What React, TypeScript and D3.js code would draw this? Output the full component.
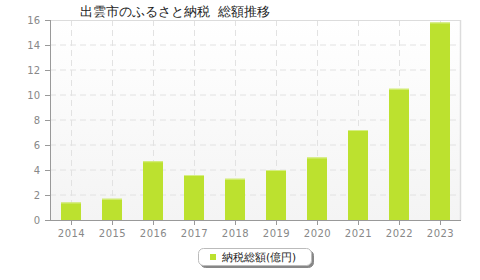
import * as d3 from "d3";

const years = ["2014", "2015", "2016", "2017", "2018", "2019", "2020", "2021", "2022", "2023"];
const amounts = [1.4, 1.7, 4.7, 3.6, 3.3, 4.0, 5.0, 7.2, 10.5, 15.8];
const yTicks = [0, 2, 4, 6, 8, 10, 12, 14, 16];
const title = "出雲市のふるさと納税  総額推移";
const seriesName = "納税総額(億円)";

const W = 480, H = 280;
const L = 50, R = 461, T = 20, B = 220;
const BAR = "#bce12f";
const FONT = "'DejaVu Sans', Verdana, sans-serif";

export default function App() {
  const x = d3.scaleBand<string>().domain(years).range([L, R]);
  const y = d3.scaleLinear().domain([0, 16]).range([B, T]);
  const bw = 20;

  return (
    <svg width={W} height={H} style={{ position: "absolute", left: 0, top: 0, background: "#fff" }}>
      <defs>
        <linearGradient id="bg" x1="0" y1="0" x2="0" y2="1">
          <stop offset="0" stopColor="#ffffff" />
          <stop offset="1" stopColor="#f4f4f4" />
        </linearGradient>
        <filter id="sh" x="-10%" y="-20%" width="130%" height="160%">
          <feDropShadow dx="2" dy="2" stdDeviation="0.6" floodColor="#555" floodOpacity="0.7" />
        </filter>
      </defs>

      <text x={80} y={16} fontFamily={FONT} fontSize={13} fill="#222" style={{ whiteSpace: "pre" }}>{title}</text>

      {/* plot background */}
      <rect x={L} y={T} width={R - L} height={B - T} fill="url(#bg)" />

      {/* grid */}
      {yTicks.slice(1, -1).map((t) => (
        <line key={t} x1={L} x2={R} y1={y(t)} y2={y(t)} stroke="#e2e2e2" strokeWidth={1} strokeDasharray="6,4" />
      ))}
      {years.map((yr) => {
        const cx = Math.round(x(yr)! + x.bandwidth() / 2) + 0.5;
        return <line key={yr} x1={cx} x2={cx} y1={T} y2={B} stroke="#e2e2e2" strokeWidth={1} strokeDasharray="6,4" />;
      })}

      {/* frame top/right */}
      <line x1={L} x2={R} y1={T + 0.5} y2={T + 0.5} stroke="#dcdcdc" strokeWidth={1} />
      <line x1={R - 0.5} x2={R - 0.5} y1={T} y2={B} stroke="#dcdcdc" strokeWidth={1.5} />

      {/* bars */}
      {amounts.map((v, i) => {
        const cx = x(years[i])! + x.bandwidth() / 2;
        const top = y(v);
        return (
          <g key={years[i]}>
            <rect x={Math.round(cx - bw / 2)} y={top} width={bw} height={B - top} fill={BAR} />
            <rect x={Math.round(cx - bw / 2)} y={top} width={bw} height={1} fill="#d6ee84" />
          </g>
        );
      })}

      {/* axes */}
      <line x1={L + 0.5} x2={L + 0.5} y1={T} y2={B + 1} stroke="#999" strokeWidth={1} />
      <line x1={L} x2={R} y1={B + 0.5} y2={B + 0.5} stroke="#999" strokeWidth={1} />
      {yTicks.map((t) => (
        <g key={t}>
          <line x1={L - 5} x2={L} y1={Math.round(y(t)) + 0.5} y2={Math.round(y(t)) + 0.5} stroke="#999" />
          <text x={L - 10} y={y(t) + 4} textAnchor="end" fontFamily={FONT} fontSize={10} fill="#888">{t}</text>
        </g>
      ))}
      {years.map((yr) => {
        const cx = Math.round(x(yr)! + x.bandwidth() / 2) + 0.5;
        return (
          <g key={yr}>
            <line x1={cx} x2={cx} y1={B} y2={B + 5} stroke="#999" />
            <text x={cx} y={237} textAnchor="middle" fontFamily={FONT} fontSize={10} fill="#888" letterSpacing={0.5}>{yr}</text>
          </g>
        );
      })}

      {/* legend */}
      <rect x={198.5} y={248.5} width={113} height={17} rx={5} fill="#fff" stroke="#bbb" filter="url(#sh)" />
      <rect x={210} y={254} width={6} height={6} fill={BAR} />
      <text x={222} y={261} fontFamily={FONT} fontSize={10.5} fill="#222">{seriesName}</text>
    </svg>
  );
}
